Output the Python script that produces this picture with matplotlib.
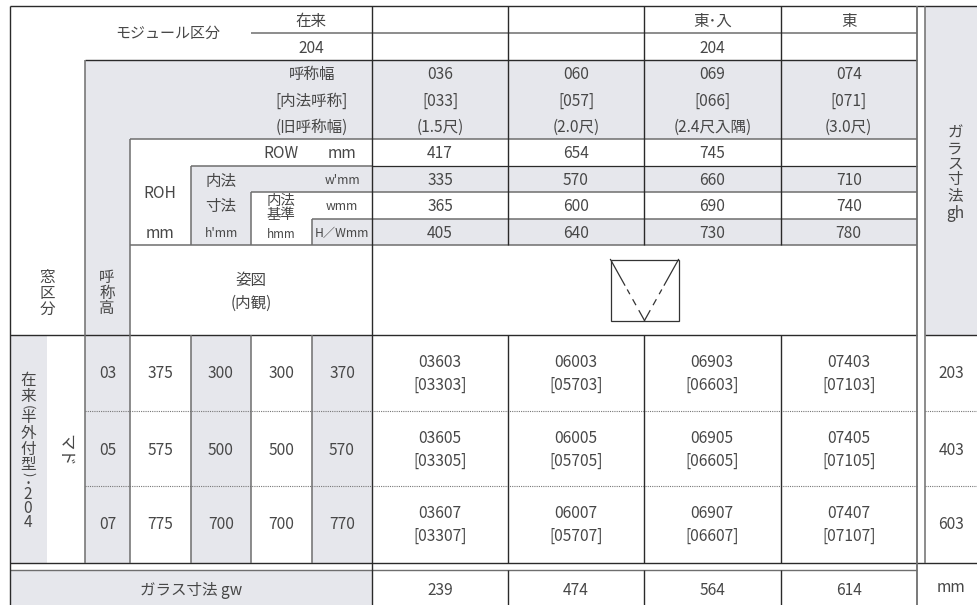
import matplotlib
matplotlib.use('Agg')
import matplotlib.pyplot as plt
from matplotlib.patches import Rectangle

plt.rcParams['font.family'] = ['Noto Sans CJK JP', 'DejaVu Sans']

# table contents
module_top = ['', '', '東･入', '東']
module_sub = ['', '', '204', '']
width_names = ['036', '060', '069', '074']
inner_names = ['[033]', '[057]', '[066]', '[071]']
old_names = ['(1.5尺)', '(2.0尺)', '(2.4尺入隅)', '(3.0尺)']
row_w = ['417', '654', '745', '']
inner_w = ['335', '570', '660', '710']
base_w = ['365', '600', '690', '740']
hw_w = ['405', '640', '730', '780']
height_names = ['03', '05', '07']
roh = ['375', '575', '775']
inner_h = ['300', '500', '700']
base_h = ['300', '500', '700']
hw_h = ['370', '570', '770']
codes = [['03603', '06003', '06903', '07403'],
         ['03605', '06005', '06905', '07405'],
         ['03607', '06007', '06907', '07407']]
inner_codes = [['[03303]', '[05703]', '[06603]', '[07103]'],
               ['[03305]', '[05705]', '[06605]', '[07105]'],
               ['[03307]', '[05707]', '[06607]', '[07107]']]
glass_h = ['203', '403', '603']
glass_w = ['239', '474', '564', '614']

# grid edges in pixels
L, X1, X2, X3, X4, X5, X6, X7 = 9.5, 47, 85, 130, 191, 251, 312, 372
COLS = [372, 508, 644, 780.5, 917]
GL = 925
R = 978
Y0, Y1, Y2, Y3, Y4, Y5, Y6, Y7 = 6, 33, 59.5, 138.5, 165.5, 192, 218.5, 245
Y8, Y9, Y10, Y11, Y12 = 335, 411, 486, 562.5, 570
B = 605

SHADE = '#e6e7ec'
DARK = '#2a2a2a'
GREY = '#6e6e6e'
TXT = '#474747'
FS = 11.2

fig = plt.figure(figsize=(9.78, 6.05), dpi=100)
ax = fig.add_axes([0, 0, 1, 1])
ax.set_xlim(0, 978)
ax.set_ylim(605, 0)
ax.axis('off')


def box(x0, y0, x1, y1, c=SHADE):
    ax.add_patch(Rectangle((x0, y0), x1 - x0, y1 - y0, fc=c, ec='none', zorder=1))


def hl(y, x0, x1, c=GREY, lw=1.1, **kw):
    ax.plot([x0, x1], [y, y], color=c, lw=lw, solid_capstyle='butt', zorder=3, **kw)


def vl(x, y0, y1, c=GREY, lw=1.1):
    ax.plot([x, x], [y0, y1], color=c, lw=lw, solid_capstyle='butt', zorder=3)


def t(x, y, s, size=FS, **kw):
    ax.text(x, y + 1.2, s, ha='center', va='center', fontsize=size, color=TXT, zorder=4, **kw)


def stack(x, y, s, ls=0.9):
    # one text, one character per line
    t(x, y, '\n'.join(s), linespacing=ls, multialignment='center')


# shading
box(X2, Y2, X7, Y3)
box(X2, Y2, X3, Y11)
box(X4, Y4, X7, Y5)
box(X4, Y4, X5, Y7)
box(X6, Y6, X7, Y7)
box(X7, Y2, COLS[-1], Y3)
box(X7, Y4, COLS[-1], Y5)
box(X7, Y6, COLS[-1], Y7)
box(GL, Y0, R, Y8)
box(L, Y8, X1, Y11)
box(X4, Y8, X5, Y11)
box(X6, Y8, X7, Y11)
box(L, Y12, X7, B)

# horizontal rules
hl(Y0, L, R, DARK, 1.0)
hl(Y1, X5, COLS[-1])
hl(Y2, X2, COLS[-1], DARK, 1.0)
hl(Y3, X3, COLS[-1])
hl(Y4, X7, COLS[-1], DARK, 0.9)
hl(Y4, X4, X7)
hl(Y5, X5, COLS[-1])
hl(Y6, X6, COLS[-1])
hl(Y7, X3, COLS[-1])
hl(Y8, L, COLS[-1], DARK, 1.0)
hl(Y8, GL, R, DARK, 1.0)
for y in [Y9, Y10]:
    ax.plot([X2, COLS[-1]], [y, y], color='#777777', lw=0.8, ls=(0, (1, 1)), zorder=2)
    ax.plot([GL, R], [y, y], color='#777777', lw=0.8, ls=(0, (1, 1)), zorder=2)
hl(Y11, L, R, DARK, 1.0)
hl(Y12, L, COLS[-1], GREY, 1.0)

# vertical rules
vl(L, Y0, B, DARK, 1.0)
vl(X2, Y2, Y11)
vl(X3, Y3, Y11)
vl(X4, Y4, Y7)
vl(X4, Y8, Y11)
vl(X5, Y5, Y7)
vl(X5, Y8, Y11)
vl(X6, Y6, Y7)
vl(X6, Y8, Y11)
for x in COLS[1:-1]:
    vl(x, Y0, Y7, DARK, 1.0)
    vl(x, Y8, Y11, DARK, 1.0)
    vl(x, Y12, B, DARK, 1.0)
vl(COLS[0], Y0, B, DARK, 1.0)
vl(COLS[-1], Y0, B, GREY, 1.3)
vl(GL, Y0, Y11, GREY, 1.1)

# header labels
t(168, 33, 'モジュール区分', size=10.8)
t(311, 20, '在来')
t(311, 47, '204')
t(312, 73.5, '呼称幅')
t(312, 100, '[内法呼称]')
t(312, 126, '(旧呼称幅)')
t(281, 152, 'ROW')
t(342, 152, 'mm')
t(160, 192, 'ROH')
t(160, 232, 'mm')
t(221, 180, '内法')
t(221, 205, '寸法')
t(221, 232, "h'mm", size=8.8)
t(281, 207, '内法\n基準', size=10.4, linespacing=0.95)
t(281, 233, 'hmm', size=8.4)
t(342, 179, "w'mm", size=8.8)
t(342, 205, 'wmm', size=8.8)
t(342, 232, 'H／Wmm', size=8.8)
t(251, 279, '姿図')
t(251, 302, '(内観)')
stack(47, 292, '窓区分')
stack(107, 292, '呼称高')

# data header columns
centers = [(a + b) / 2 for a, b in zip(COLS[:-1], COLS[1:])]
for i, xc in enumerate(centers):
    t(xc, 20, module_top[i])
    t(xc, 47, module_sub[i])
    t(xc, 73.5, width_names[i])
    t(xc, 100, inner_names[i])
    t(xc, 126, old_names[i])
    t(xc, 152, row_w[i])
    t(xc, 179, inner_w[i])
    t(xc, 205, base_w[i])
    t(xc, 232, hw_w[i])
    t(xc, 589, glass_w[i])

# elevation sketch
bx0, bx1, by0, by1 = 610.5, 678.5, 259.5, 320.5
ax.add_patch(Rectangle((bx0, by0), bx1 - bx0, by1 - by0, fc='white', ec='#333333', lw=0.9, zorder=3))
mid = (bx0 + bx1) / 2
for sx in [bx0, bx1]:
    for f0, f1 in [(0, 0.42), (0.5, 0.56), (0.66, 0.74), (0.84, 1.0)]:
        ax.plot([sx + (mid - sx) * f0, sx + (mid - sx) * f1],
                [by0 + (by1 - by0) * f0, by0 + (by1 - by0) * f1],
                color='#333333', lw=0.9, zorder=4)

# body rows
rows_y = [(Y8 + Y9) / 2 - 0.5, (Y9 + Y10) / 2 + 0.5, (Y10 + Y11) / 2 - 0.5]
for r, y in enumerate(rows_y):
    t((X2 + X3) / 2, y, height_names[r])
    t((X3 + X4) / 2, y, roh[r])
    t((X4 + X5) / 2, y, inner_h[r])
    t((X5 + X6) / 2, y, base_h[r])
    t((X6 + X7) / 2, y, hw_h[r])
    for i, xc in enumerate(centers):
        t(xc, y - 11.5, codes[r][i])
        t(xc, y + 11.5, inner_codes[r][i])
    t((GL + R) / 2, y, glass_h[r])

stack(28, 387, '在来')
t(28, 406, '(', rotation=-90, size=9.5)
stack(28, 440, '半外付型')
t(28, 473, ')', rotation=-90, size=9.5)
t(28, 481.5, '•', size=7)
stack(28, 507, '204', ls=0.78)
t(64.5, 449, 'マド', rotation=-90, size=11.8)

# glass size labels
stack(955, 163, 'ガラス寸法')
t(955, 212, 'gh')
t(191, 589, 'ガラス寸法 gw')
t(951, 586, 'mm')

fig.savefig('out.png', dpi=100)
